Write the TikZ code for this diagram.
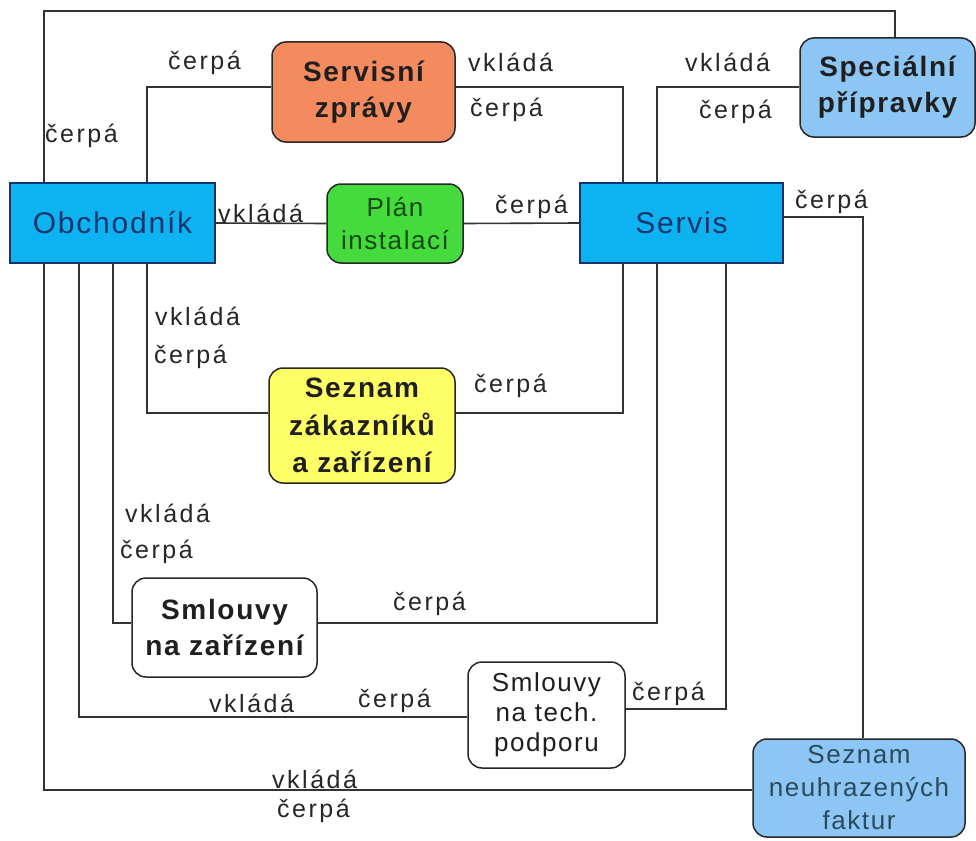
\documentclass[tikz,border=0pt]{standalone}
\usepackage{fontspec}
\setmainfont{Liberation Sans}
\newfontfamily\labfont[LetterSpace=10]{Liberation Sans}
\newfontfamily\boxfont[LetterSpace=6]{Liberation Sans}
\definecolor{linegray}{HTML}{333333}
\definecolor{navy}{HTML}{13356F}
\definecolor{entblue}{HTML}{0DB3F1}
\definecolor{orangefill}{HTML}{F48B5E}
\definecolor{greenfill}{HTML}{45DB3C}
\definecolor{darkgreen}{HTML}{124B12}
\definecolor{lightblue}{HTML}{8DC6F4}
\definecolor{yellowfill}{HTML}{FFFF66}
\definecolor{slate}{HTML}{2B4A5C}
\begin{document}
\begin{tikzpicture}[x=1pt,y=-1pt,
  conn/.style={draw=linegray, line width=1.6pt},
  lbl/.style={anchor=base west, inner sep=0pt, text=black!85,
    font=\labfont\fontsize{25}{30}\selectfont},
  entity/.style={draw=navy, line width=1.5pt, fill=entblue, inner sep=0pt,
    text=navy, font=\boxfont\fontsize{30}{36}\selectfont},
  store/.style={draw=black!85, line width=1.5pt, rounded corners=14pt,
    inner sep=0pt, align=center, text=black!88},
  boldtext/.style={font=\boxfont\bfseries\fontsize{28}{36}\selectfont},
  plaintext/.style={font=\boxfont\fontsize{26}{33}\selectfont}]

\useasboundingbox (0,0) rectangle (976,840);

% column and row positions of the connector runs
\coordinate (xa) at (44,0);
\coordinate (xb) at (79,0);
\coordinate (xc) at (113,0);
\coordinate (xd) at (147,0);
\coordinate (xe) at (623,0);
\coordinate (xf) at (657,0);
\coordinate (xg) at (726,0);
\coordinate (xh) at (863,0);
\coordinate (xi) at (895,0);
\coordinate (ya) at (0,11);
\coordinate (yb) at (0,87);
\coordinate (yc) at (0,413);
\coordinate (yd) at (0,623);
\coordinate (ye) at (0,717);
\coordinate (yf) at (0,790);
\coordinate (yg) at (0,217);
\coordinate (yh) at (0,709);

% actors
\node[entity, minimum width=205pt, minimum height=80pt] (obch) at (112.5,223) {Obchodník};
\node[entity, minimum width=203pt, minimum height=80pt] (serv) at (681.5,223) {Servis};

% data stores
\node[store, boldtext, fill=orangefill, minimum width=183pt, minimum height=100pt]
  (szpr) at (363.5,92) {Servisní\\zprávy};
\node[store, plaintext, fill=greenfill, text=darkgreen, minimum width=136pt, minimum height=79pt]
  (plan) at (395,223.5) {Plán\\instalací};
\node[store, boldtext, fill=lightblue, minimum width=175pt, minimum height=99pt]
  (spec) at (887.5,87.5) {Speciální\\přípravky};
\node[store, boldtext, fill=yellowfill, minimum width=186pt, minimum height=115pt,
  font=\boxfont\bfseries\fontsize{28}{37.5}\selectfont]
  (szak) at (362,425.5) {Seznam\\zákazníků\\a zařízení};
\node[store, boldtext, fill=white, minimum width=185pt, minimum height=99pt]
  (szar) at (224.5,627.5) {Smlouvy\\na zařízení};
\node[store, fill=white, minimum width=157pt, minimum height=106pt,
  font=\boxfont\fontsize{26}{30}\selectfont]
  (stech) at (546.5,715) {Smlouvy\\na tech.\\podporu};
\node[store, plaintext, fill=lightblue, text=slate, minimum width=212pt, minimum height=98pt]
  (sneu) at (859,788) {Seznam\\neuhrazených\\faktur};

% connectors
\draw[conn] (obch.north -| xa) |- (ya -| xi) -- (spec.north -| xi);
\draw[conn] (obch.north -| xd) |- (szpr.west |- yb);
\draw[conn] (szpr.east |- yb) -| (serv.north -| xe);
\draw[conn] (spec.west |- yb) -| (serv.north -| xf);
\draw[conn] (obch.east) -- (plan.west);
\draw[conn] (plan.east) -- (serv.west);
\draw[conn] (serv.east |- yg) -| (sneu.north -| xh);
\draw[conn] (obch.south -| xd) |- (szak.west |- yc);
\draw[conn] (szak.east |- yc) -| (serv.south -| xe);
\draw[conn] (obch.south -| xc) |- (szar.west |- yd);
\draw[conn] (szar.east |- yd) -| (serv.south -| xf);
\draw[conn] (obch.south -| xb) |- (stech.west |- ye);
\draw[conn] (stech.east |- yh) -| (serv.south -| xg);
\draw[conn] (obch.south -| xa) |- (sneu.west |- yf);

% connector labels
\node[lbl] (l1) at (45,142) {čerpá};
\node[lbl] (l2) at (168,70) {čerpá};
\node[lbl] (l3) at (468,72) {vkládá};
\node[lbl] (l4) at (470,117) {čerpá};
\node[lbl] (l5) at (685,72) {vkládá};
\node[lbl] (l6) at (699,118) {čerpá};
\node[lbl] (l7) at (218,222) {vkládá};
\node[lbl] (l8) at (495,213) {čerpá};
\node[lbl] (l9) at (795,208) {čerpá};
\node[lbl] (l10) at (155,325) {vkládá};
\node[lbl] (l11) at (154,363) {čerpá};
\node[lbl] (l12) at (474,392) {čerpá};
\node[lbl] (l13) at (125,522) {vkládá};
\node[lbl] (l14) at (120,558) {čerpá};
\node[lbl] (l15) at (393,610) {čerpá};
\node[lbl] (l16) at (209,712) {vkládá};
\node[lbl] (l17) at (358,707) {čerpá};
\node[lbl] (l18) at (632,700) {čerpá};
\node[lbl] (l19) at (272,788) {vkládá};
\node[lbl] (l20) at (277,817) {čerpá};
\end{tikzpicture}
\end{document}
